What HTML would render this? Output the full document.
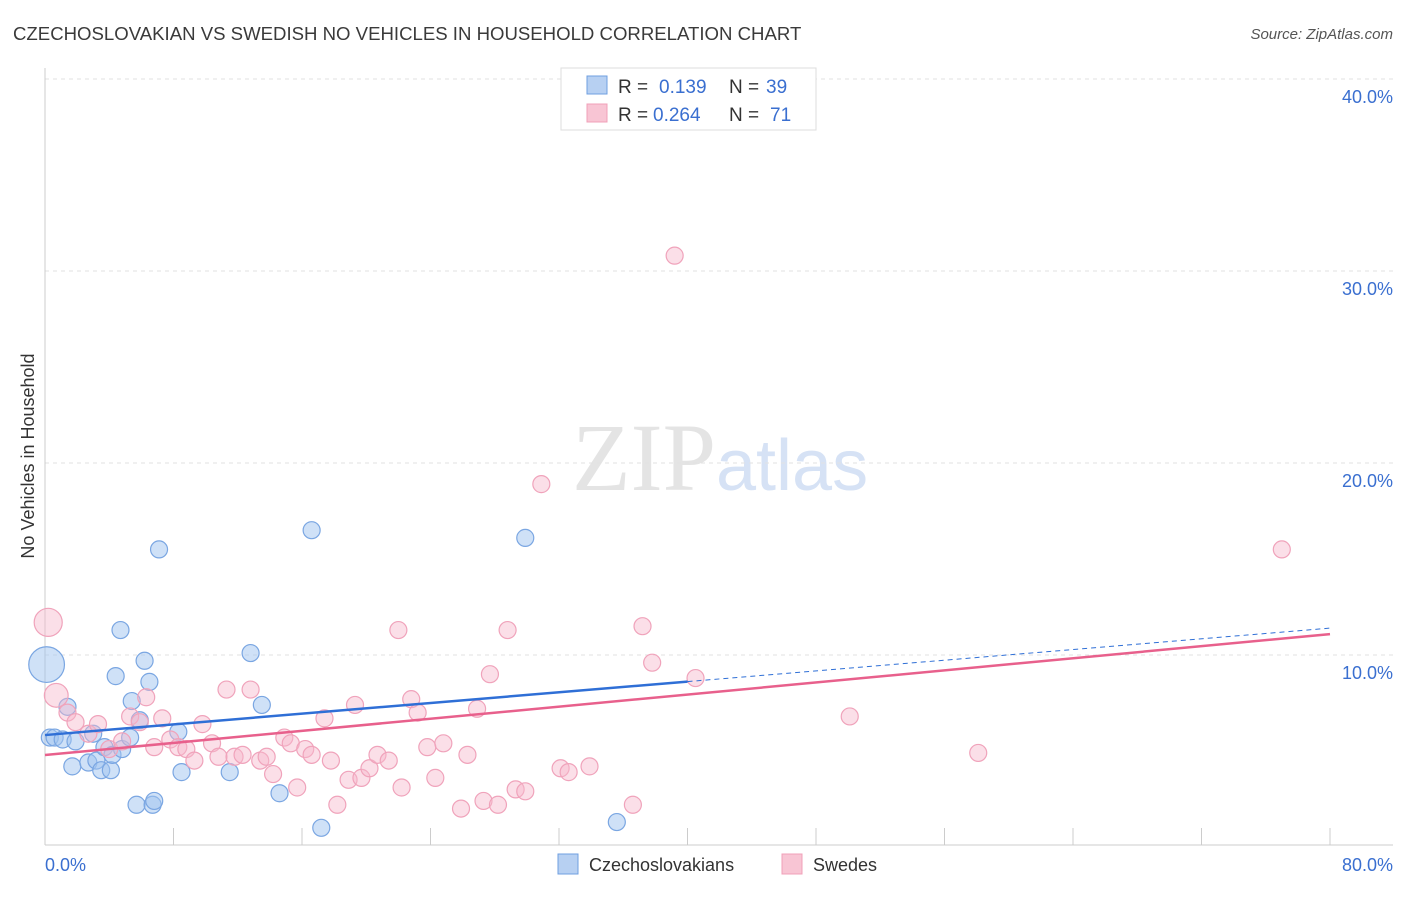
<!DOCTYPE html>
<html><head><meta charset="utf-8"><style>
body{margin:0;background:#fff;font-family:"Liberation Sans",sans-serif;}
</style></head><body>
<svg id="c" width="1406" height="892" xmlns="http://www.w3.org/2000/svg" style="font-family:'Liberation Sans',sans-serif">
<text x="13" y="40" font-size="18.6" fill="#3a3a3a">CZECHOSLOVAKIAN VS SWEDISH NO VEHICLES IN HOUSEHOLD CORRELATION CHART</text>
<text x="1393" y="39" font-size="15" font-style="italic" fill="#555" text-anchor="end">Source: ZipAtlas.com</text>
<text x="716" y="490" font-size="96" fill="#e4e4e4" text-anchor="end" font-family="Liberation Serif">ZIP</text>
<text x="716" y="490" font-size="72" fill="#d6e2f5">atlas</text>
<text x="34" y="456" font-size="18" fill="#333" text-anchor="middle" transform="rotate(-90 34 456)">No Vehicles in Household</text>
<g id="grid"></g><g id="pts"></g><g id="lines"></g>
<g>
<rect x="561" y="68" width="255" height="62" fill="#fff" stroke="#ddd"/>
<rect x="587" y="76" width="20" height="18" fill="#b7d0f2" stroke="#6f9fe0"/>
<text x="618" y="93" font-size="19" fill="#333">R =</text><text x="659" y="93" font-size="19" fill="#3a6fd0">0.139</text>
<text x="729" y="93" font-size="19" fill="#333">N =</text><text x="766" y="93" font-size="19" fill="#3a6fd0">39</text>
<rect x="587" y="104" width="20" height="18" fill="#f8c5d4" stroke="#f0a0b8"/>
<text x="618" y="121" font-size="19" fill="#333">R =</text><text x="653" y="121" font-size="19" fill="#3a6fd0">0.264</text>
<text x="729" y="121" font-size="19" fill="#333">N =</text><text x="770" y="121" font-size="19" fill="#3a6fd0">71</text>
</g>
<g>
<rect x="558" y="854" width="20" height="20" fill="#b7d0f2" stroke="#6f9fe0"/>
<text x="589" y="871" font-size="18" fill="#333">Czechoslovakians</text>
<rect x="782" y="854" width="20" height="20" fill="#f8c5d4" stroke="#f0a0b8"/>
<text x="813" y="871" font-size="18" fill="#333">Swedes</text>
</g>
</svg>
<script>
const xTicks=[0,8,16,24,32,40,48,56,64,72,80];
const xLabels=[0,80];
const yTicks=[10,20,30,40];
const blueX=[0.1,1.4,0.3,0.6,1.1,1.9,1.7,2.7,3.0,3.2,3.7,3.5,4.1,4.2,4.8,4.4,4.7,5.3,5.4,5.7,5.9,6.2,6.5,6.7,6.8,7.1,8.3,8.5,11.5,12.8,13.5,14.6,16.6,17.2,29.9,35.6];
const blueY=[9.5,7.3,5.7,5.7,5.6,5.5,4.2,4.4,5.9,4.5,5.2,4.0,4.0,4.8,5.1,8.9,11.3,5.7,7.6,2.2,6.6,9.7,8.6,2.2,2.4,15.5,6.0,3.9,3.9,10.1,7.4,2.8,16.5,1.0,16.1,1.3];
const blueW=[2.1,1,1,1,1,1,1,1,1,1,1,1,1,1,1,1,1,1,1,1,1,1,1,1,1,1,1,1,1,1,1,1,1,1,1,1];
const pinkX=[0.2,0.7,1.4,1.9,2.7,3.3,4.0,4.8,5.3,5.9,6.3,6.8,7.3,7.8,8.3,8.8,9.3,9.8,10.4,10.8,11.3,11.8,12.3,12.8,13.4,13.8,14.2,14.9,15.3,15.7,16.2,16.6,17.4,17.8,18.2,18.9,19.3,19.7,20.2,20.7,21.4,22.0,22.2,22.8,23.2,23.8,24.3,24.8,25.9,26.3,26.9,27.3,27.7,28.2,28.8,29.3,29.9,30.9,32.1,32.6,33.9,36.6,37.2,37.8,39.2,40.5,50.1,58.1,77.0];
const pinkY=[11.7,7.9,7.0,6.5,5.9,6.4,5.1,5.5,6.8,6.5,7.8,5.2,6.7,5.6,5.2,5.1,4.5,6.4,5.4,4.7,8.2,4.7,4.8,8.2,4.5,4.7,3.8,5.7,5.4,3.1,5.1,4.8,6.7,4.5,2.2,3.5,7.4,3.6,4.1,4.8,4.5,11.3,3.1,7.7,7.0,5.2,3.6,5.4,2.0,4.8,7.2,2.4,9.0,2.2,11.3,3.0,2.9,18.9,4.1,3.9,4.2,2.2,11.5,9.6,30.8,8.8,6.8,4.9,15.5];
const pinkW=[1.65,1.4,1,1,1,1,1,1,1,1,1,1,1,1,1,1,1,1,1,1,1,1,1,1,1,1,1,1,1,1,1,1,1,1,1,1,1,1,1,1,1,1,1,1,1,1,1,1,1,1,1,1,1,1,1,1,1,1,1,1,1,1,1,1,1,1,1,1,1];
const blueTrend=[5.83,11.4];
const pinkTrend=[4.79,11.09];
const NS="http://www.w3.org/2000/svg";
const sx=v=>45+v*(1285/80), sy=v=>847-v*19.2;
function mk(t,a,p){const e=document.createElementNS(NS,t);for(const k in a)e.setAttribute(k,a[k]);document.getElementById(p).appendChild(e);return e;}
yTicks.forEach(t=>{
 const l=mk('line',{x1:45,x2:1393,y1:sy(t),y2:sy(t),stroke:'#e2e2e2','stroke-dasharray':'4,4'},'grid');
 
 
 const tx=mk('text',{x:1393,y:sy(t)+24,'font-size':18,fill:'#3a6fd0','text-anchor':'end'},'grid');tx.textContent=t.toFixed(1)+'%';
 
 
});
const ax=mk('line',{x1:45,x2:1393,y1:845,y2:845,stroke:'#ccc'},'grid');


const ay=mk('line',{x1:45,x2:45,y1:68,y2:845,stroke:'#ccc'},'grid');


xTicks.forEach(t=>{
 const l=mk('line',{x1:sx(t),x2:sx(t),y1:828,y2:845,stroke:'#ccc'},'grid');
 
 
});
xLabels.forEach((t,i)=>{
 const tx=mk('text',{x:i===0?45:1393,y:871,'font-size':18,fill:'#3a6fd0','text-anchor':i===0?'start':'end'},'grid');tx.textContent=t.toFixed(1)+'%';
 
 
});
blueX.forEach((v,i)=>{
 const c=mk('circle',{cx:sx(v),cy:sy(blueY[i]),r:8.5*blueW[i],fill:'rgba(160,195,240,0.5)',stroke:'#7aa6e2','stroke-width':1.2},'pts');
 
 
});
pinkX.forEach((v,i)=>{
 const c=mk('circle',{cx:sx(v),cy:sy(pinkY[i]),r:8.5*pinkW[i],fill:'rgba(246,185,205,0.45)',stroke:'#f0a3bb','stroke-width':1.2},'pts');
 
 
});
const bm=blueTrend[0]+(blueTrend[1]-blueTrend[0])/2;
const b1=mk('line',{x1:sx(0),y1:sy(blueTrend[0]),x2:sx(40),y2:sy(bm),stroke:'#2f6fd6','stroke-width':2.5},'lines');


const b2=mk('line',{x1:sx(40),y1:sy(bm),x2:sx(80),y2:sy(blueTrend[1]),stroke:'#2f6fd6','stroke-width':1,'stroke-dasharray':'5,4'},'lines');


const p1=mk('line',{x1:sx(0),y1:sy(pinkTrend[0]),x2:sx(80),y2:sy(pinkTrend[1]),stroke:'#e8608c','stroke-width':2.5},'lines');


</script>
</body></html>
